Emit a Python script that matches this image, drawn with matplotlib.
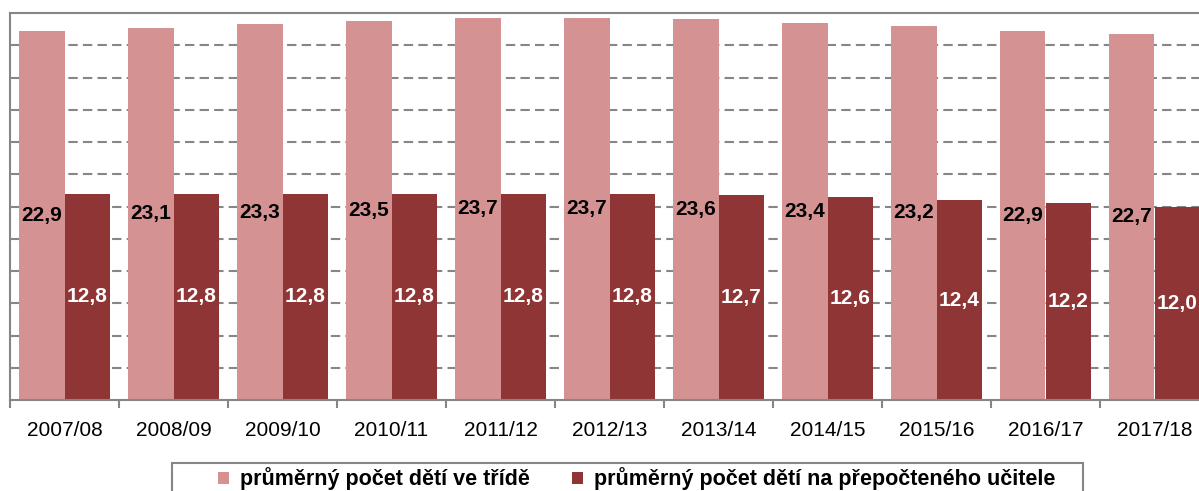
import numpy as np
import matplotlib
matplotlib.use("Agg")
import matplotlib.pyplot as plt
from matplotlib.patches import Rectangle

plt.rcParams['font.family'] = ['Liberation Sans', 'DejaVu Sans']

# data
years = ['2007/08', '2008/09', '2009/10', '2010/11', '2011/12', '2012/13',
         '2013/14', '2014/15', '2015/16', '2016/17', '2017/18']
per_class = [22.9, 23.1, 23.3, 23.5, 23.7, 23.7, 23.6, 23.4, 23.2, 22.9, 22.7]
per_teacher = [12.8, 12.8, 12.8, 12.8, 12.8, 12.8, 12.7, 12.6, 12.4, 12.2, 12.0]
series_names = ['průměrný počet dětí ve třídě',
                'průměrný počet dětí na přepočteného učitele']

pink = '#d49292'
dark = '#8f3535'
grey = '#868686'

W, H = 1199, 491
fig = plt.figure(figsize=(W / 100, H / 100), dpi=100)
# plot area runs a little past the right edge of the picture
ax = fig.add_axes([10 / W, 91 / H, 1199 / W, 387 / H])

x = np.arange(len(years))
bw = 0.417
b1 = ax.bar(x - bw / 2, per_class, bw, color=pink, zorder=2)
b2 = ax.bar(x + bw / 2, per_teacher, bw, color=dark, zorder=2)

# labels sit in the middle of each bar
for rect, v in zip(b1, per_class):
    ax.text(rect.get_x() + rect.get_width() / 2, v / 2, f'{v:.1f}'.replace('.', ','),
            ha='center', va='center', fontsize=15, fontweight='bold', color='black', zorder=3)
for rect, v in zip(b2, per_teacher):
    ax.text(rect.get_x() + rect.get_width() / 2, v / 2, f'{v:.1f}'.replace('.', ','),
            ha='center', va='center', fontsize=15, fontweight='bold', color='white', zorder=3)

ax.set_xlim(-0.5, len(years) - 0.5)
ax.set_ylim(0, 24)

ax.set_yticks(np.arange(2, 24, 2))
ax.set_yticklabels([])
ax.tick_params(axis='y', length=0)
ax.yaxis.grid(True, linestyle=(0, (4.5, 2.5)), color=grey, linewidth=1.5, zorder=0)
ax.set_axisbelow(True)

ax.set_xticks(x)
ax.set_xticklabels(years, fontsize=15)
ax.set_xticks(np.arange(-0.5, len(years), 1), minor=True)
ax.tick_params(axis='x', which='major', length=0, pad=15)
ax.tick_params(axis='x', which='minor', length=6, width=1.5, color=grey, direction='out')

for s in ax.spines.values():
    s.set_color(grey)
    s.set_linewidth(1.5)

# legend frame goes off the bottom of the picture
fig.patches.append(Rectangle((172 / W, -0.1), (1083 - 172) / W, 0.1 + (491 - 463) / H,
                             transform=fig.transFigure, fill=False,
                             edgecolor=grey, linewidth=1.5))
fig.legend([b1, b2], series_names, loc='center left',
           bbox_to_anchor=(218 / W, 1 - 479 / H), ncol=2, frameon=False,
           prop={'size': 15.5, 'weight': 'bold'}, handlelength=0.5, handleheight=0.5,
           handletextpad=0.5, columnspacing=2.0, borderaxespad=0, borderpad=0)

fig.savefig('out.png', dpi=100)
